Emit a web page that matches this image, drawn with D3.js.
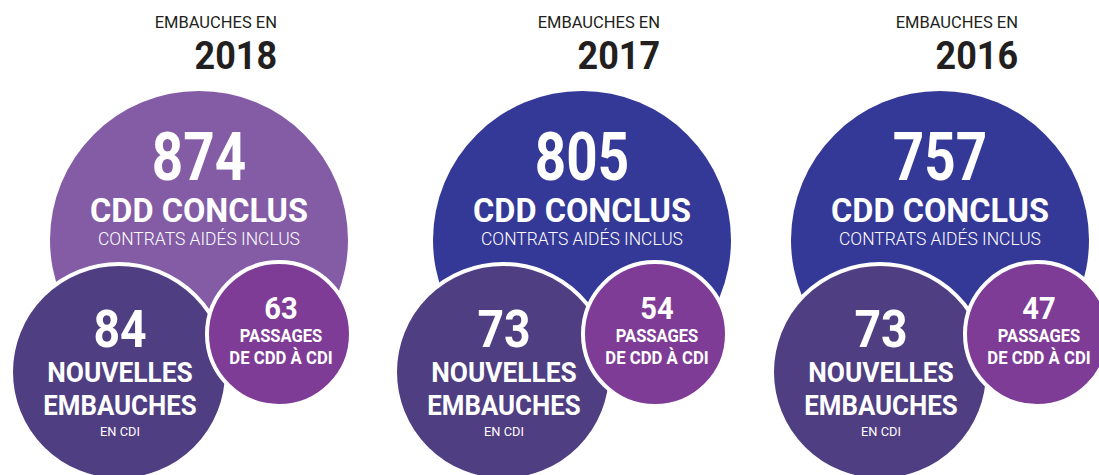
<!DOCTYPE html>
<html>
<head>
<meta charset="utf-8">
<script src="https://cdn.jsdelivr.net/npm/d3@7"></script>
<style>
  html, body { margin: 0; padding: 0; background: #fff; }
  svg { display: block; font-family: Roboto, 'Noto Sans', sans-serif; }
</style>
</head>
<body>
<svg></svg>
<script>
const width = 1099;
const height = 475;

// data
const years = ['2018', '2017', '2016'];
const cddConclus = [874, 805, 757];
const nouvellesEmbauches = [84, 73, 73];
const passagesCdi = [63, 54, 47];

const titleLabel = 'EMBAUCHES EN';
const cddLabels = ['CDD CONCLUS', 'CONTRATS AIDÉS INCLUS'];
const cdiLabels = ['NOUVELLES', 'EMBAUCHES', 'EN CDI'];
const passageLabels = ['PASSAGES', 'DE CDD À CDI'];

// layout (not data)
const groupX = d3.scaleOrdinal(years, [199, 582, 940]);
const darkDx = d3.scaleOrdinal(years, [-80, -79, -60]);
const purpleDx = d3.scaleOrdinal(years, [80, 73, 97]);
const bigFill = d3.scaleOrdinal(years, ['#845ca6', '#343897', '#343897']);
const radius = d3.scaleOrdinal(['big', 'dark', 'purple'], [149, 108, 72]);

const svg = d3.select('svg')
    .attr('width', width)
    .attr('height', height);

const rows = years.map((y, i) => ({
  year: y,
  cdd: cddConclus[i],
  cdi: nouvellesEmbauches[i],
  passage: passagesCdi[i]
}));

const groups = svg.selectAll('g.year')
  .data(rows)
  .enter().append('g')
    .attr('class', 'year')
    .attr('transform', d => `translate(${groupX(d.year)},0)`);

// text helper, sx squeezes the glyphs a bit (DIN look)
function label(sel, x, y, txt, size, weight, sx, anchor, color) {
  sel.append('text')
      .attr('transform', `translate(${x},${y}) scale(${sx},1)`)
      .attr('text-anchor', anchor || 'middle')
      .attr('fill', color || '#fff')
      .style('font-size', size + 'px')
      .style('font-weight', weight)
      .text(txt);
}

groups.each(function(d) {
  const g = d3.select(this);

  // title
  label(g, 78, 28, titleLabel, 16.5, 400, 1, 'end', '#231f20');
  label(g, 78, 68.5, d.year, 39.5, 700, 0.91, 'end', '#231f20');

  // big circle
  g.append('circle')
      .attr('cx', 0).attr('cy', 240)
      .attr('r', radius('big'))
      .attr('fill', bigFill(d.year));
  label(g, 0, 180, d.cdd, 66, 700, 0.83);
  label(g, 0, 222, cddLabels[0], 33.5, 700, 0.97);
  label(g, 0, 245, cddLabels[1], 18, 300, 0.97);

  // nouvelles embauches
  const dx = darkDx(d.year);
  g.append('circle')
      .attr('cx', dx).attr('cy', 372)
      .attr('r', radius('dark'))
      .attr('fill', '#4f3e81')
      .attr('stroke', '#fff')
      .attr('stroke-width', 4);
  label(g, dx + 1, 347, d.cdi, 52, 700, 0.89);
  label(g, dx + 1, 382, cdiLabels[0], 28, 700, 0.94);
  label(g, dx + 1, 415, cdiLabels[1], 27.5, 700, 0.94);
  label(g, dx + 1, 436, cdiLabels[2], 13.5, 400, 0.95);

  // passages
  const px = purpleDx(d.year);
  g.append('circle')
      .attr('cx', px).attr('cy', 334)
      .attr('r', radius('purple'))
      .attr('fill', '#7f3c97')
      .attr('stroke', '#fff')
      .attr('stroke-width', 4);
  label(g, px + 2, 319, d.passage, 31, 700, 0.94);
  label(g, px + 2, 342, passageLabels[0], 18, 700, 0.92);
  label(g, px + 2, 364, passageLabels[1], 18, 700, 0.93);
});
</script>
</body>
</html>
